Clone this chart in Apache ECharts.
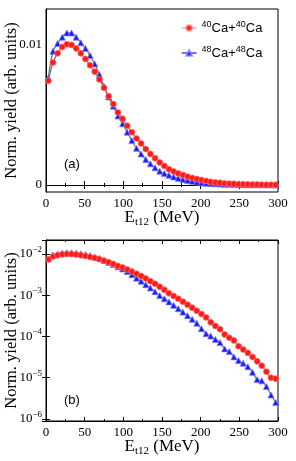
<!DOCTYPE html>
<html><head><meta charset="utf-8">
<script src="https://cdn.jsdelivr.net/npm/echarts@6/dist/echarts.min.js"></script>
<style>html,body{margin:0;padding:0;background:#fff}#c{width:296px;height:461px}</style>
</head><body><div id="c"></div>
<script>
const energy = [3,9,15,21,27,33,39,45,51,57,63,69,75,81,87,93,99,105,111,117,123,129,135,141,147,153,159,165,171,177,183,189,195,201,207,213,219,225,231,237,243,249,255,261,267,273,279,285,291,297];
const yieldCa40 = [7.4e-3,8.7e-3,9.35e-3,9.8e-3,1.0e-2,9.95e-3,9.7e-3,9.35e-3,8.95e-3,8.5e-3,
  8.05e-3,7.5e-3,6.9e-3,6.3e-3,5.75e-3,5.15e-3,4.7e-3,4.2e-3,3.75e-3,3.3e-3,
  2.95e-3,2.55e-3,2.2e-3,1.9e-3,1.6e-3,1.35e-3,1.12e-3,9.6e-4,8.2e-4,7.0e-4,
  5.9e-4,5.0e-4,4.2e-4,3.5e-4,2.9e-4,2.2e-4,1.8e-4,1.5e-4,1.12e-4,9.3e-5,
  8.0e-5,5.8e-5,4.8e-5,4.0e-5,3.2e-5,2.5e-5,1.95e-5,1.4e-5,1.0e-5,9.5e-6];
const yieldCa48 = [7.6e-3,9.5e-3,1.005e-2,1.05e-2,1.08e-2,1.08e-2,1.05e-2,1.01e-2,9.7e-3,9.2e-3,
  8.6e-3,7.85e-3,7.0e-3,6.25e-3,5.6e-3,4.9e-3,4.35e-3,3.75e-3,3.15e-3,2.6e-3,
  2.2e-3,1.8e-3,1.5e-3,1.22e-3,9.8e-4,8.2e-4,6.9e-4,5.7e-4,4.7e-4,3.9e-4,
  3.2e-4,2.6e-4,2.1e-4,1.55e-4,1.17e-4,1.02e-4,8.5e-5,7.1e-5,5.0e-5,4.3e-5,
  3.2e-5,2.6e-5,2.25e-5,1.85e-5,1.35e-5,9.0e-6,8.4e-6,6.1e-6,3.8e-6,2.5e-6];
const xTicks = [0,50,100,150,200,250,300];
const linTickLabels = ['0','0.01'];
const logTickExps = [-6,-5,-4,-3,-2];
const seriesNames = ['Ca40','Ca48'];

const serif = 'Liberation Serif';
const sans = 'Liberation Sans';
const chart = echarts.init(document.getElementById('c'), null, {renderer:'canvas'});

const pairs = ys => energy.map((e,i)=>[e, ys[i]]);
const xName = 'E{sub|t12} (MeV)';
const xNameStyle = {fontFamily: serif, fontSize: 17, color:'#000',
  rich:{sub:{fontFamily: serif, fontSize: 11, color:'#000', padding:[9,0,0,0]}}};

function xAxisPair(grid){
  return [
    {type:'value', gridIndex:grid, min:0, max:300, interval:50, position:'bottom',
     axisLine:{lineStyle:{color:'#000', width:1}}, axisTick:{inside:true, length:4, lineStyle:{color:'#000'}},
     minorTick:{show:true, splitNumber:2, length:2, lineStyle:{color:'#000'}},
     splitLine:{show:false},
     axisLabel:{fontFamily:serif, fontSize:13, color:'#000', margin:5},
     name:xName, nameLocation:'middle', nameGap:16, nameMoveOverlap:false, nameTextStyle:xNameStyle},
    {type:'value', gridIndex:grid, min:0, max:300, interval:50, position:'top',
     axisLine:{lineStyle:{color:'#000', width:1}}, axisTick:{inside:true, length:4, lineStyle:{color:'#000'}},
     minorTick:{show:true, splitNumber:2, length:2, lineStyle:{color:'#000'}},
     splitLine:{show:false}, axisLabel:{show:false}}
  ];
}
const yName = 'Norm. yield (arb. units)';
const yNameStyle = {fontFamily: serif, fontSize: 16.5, color:'#000'};

const linMin = -0.0005, linMax = 0.0125;
function linFmt(v){
  if (Math.abs(v) < 1e-9) return linTickLabels[0];
  if (Math.abs(v-0.01) < 1e-9) return linTickLabels[1];
  return '';
}
function logFmt(v){
  const e = Math.log10(v);
  const r = Math.round(e);
  if (Math.abs(e - r) > 0.01 || logTickExps.indexOf(r) < 0) return '';
  return '10{sup|' + (r<0 ? '\u2212' + (-r) : r) + '}';
}
const logMin = Math.pow(10,-6.05), logMax = Math.pow(10,-1.66);

const mk = (name, ys, xi, yi, z) => ({
  name: name, type:'line', xAxisIndex:xi, yAxisIndex:yi, data: pairs(ys), z:z,
  smooth:0.3,
  symbol: name===seriesNames[0] ? 'circle' : 'triangle',
  symbolSize: 6,
  lineStyle:{color:'#6e6e6e', width:1.2},
  itemStyle:{color: name===seriesNames[0] ? '#ff1a1a' : '#1a1aff',
    borderColor: name===seriesNames[0] ? 'rgba(255,120,120,0.7)' : 'rgba(120,120,255,0.7)', borderWidth:1},
  emphasis:{disabled:true}, animation:false
});

const option = {
  animation:false,
  grid:[
    {left:46, top:9, width:232, height:183, show:true, borderColor:'#000', borderWidth:1, backgroundColor:'transparent', outerBoundsMode:'none', containLabel:false},
    {left:46, top:240, width:232, height:181, show:true, borderColor:'#000', borderWidth:1, backgroundColor:'transparent', outerBoundsMode:'none', containLabel:false}
  ],
  xAxis: [...xAxisPair(0), ...xAxisPair(1)],
  yAxis: [
    {type:'value', gridIndex:0, min:linMin, max:linMax, interval:0.0005, position:'left',
     axisLine:{show:true, lineStyle:{color:'#000'}}, axisTick:{show:false}, splitLine:{show:false},
     axisLabel:{formatter:linFmt, fontFamily:serif, fontSize:13, color:'#000', margin:4},
     name:yName, nameLocation:'middle', nameGap:26, nameMoveOverlap:false, nameTextStyle:yNameStyle},
    {type:'value', gridIndex:0, min:linMin, max:linMax, interval:0.0005, position:'right',
     axisLine:{show:true, lineStyle:{color:'#000'}}, axisTick:{show:false}, splitLine:{show:false}, axisLabel:{show:false}},
    {type:'log', logBase:10, gridIndex:1, min:logMin, max:logMax, position:'left',
     axisLine:{show:true, lineStyle:{color:'#000'}}, axisTick:{show:true, inside:true, length:4, lineStyle:{color:'#000'}},
     splitLine:{show:false},
     axisLabel:{formatter:logFmt, fontFamily:serif, fontSize:13, color:'#000', margin:4, showMinLabel:false, showMaxLabel:false,
       rich:{sup:{fontFamily:serif, fontSize:9, color:'#000', padding:[0,0,9,0]}}},
     name:yName, nameLocation:'middle', nameGap:26, nameMoveOverlap:false, nameTextStyle:yNameStyle},
    {type:'log', logBase:10, gridIndex:1, min:logMin, max:logMax, position:'right',
     axisLine:{show:true, lineStyle:{color:'#000'}}, axisTick:{show:true, inside:true, length:4, lineStyle:{color:'#000'}},
     splitLine:{show:false}, axisLabel:{show:false}}
  ],
  legend:{
    orient:'vertical', left:176, top:15, itemGap:9, itemWidth:15, itemHeight:7,
    data:[
      {name:seriesNames[0], itemStyle:{color:'#ff1a1a'}, lineStyle:{color:'#ff9090', width:1.2}},
      {name:seriesNames[1], itemStyle:{color:'#1a1aff'}, lineStyle:{color:'#1a1aff', width:1.2}}
    ],
    formatter: n => n===seriesNames[0] ? '{sup|40}Ca+{sup|40}Ca' : '{sup|48}Ca+{sup|48}Ca',
    textStyle:{fontFamily:sans, fontSize:13, color:'#000', lineHeight:16,
      rich:{sup:{fontFamily:sans, fontSize:9, color:'#000', padding:[0,0,7,0]}}}
  },
  graphic:[
    {type:'text', left:64, top:158, style:{text:'(a)', fontFamily:sans, fontSize:13, fill:'#000'}},
    {type:'text', left:64, top:394, style:{text:'(b)', fontFamily:sans, fontSize:13, fill:'#000'}}
  ],
  series:[
    mk(seriesNames[1], yieldCa48, 0, 0, 2),
    mk(seriesNames[0], yieldCa40, 0, 0, 3),
    mk(seriesNames[1], yieldCa48, 2, 2, 2),
    mk(seriesNames[0], yieldCa40, 2, 2, 3)
  ]
};
chart.setOption(option);
</script></body></html>
